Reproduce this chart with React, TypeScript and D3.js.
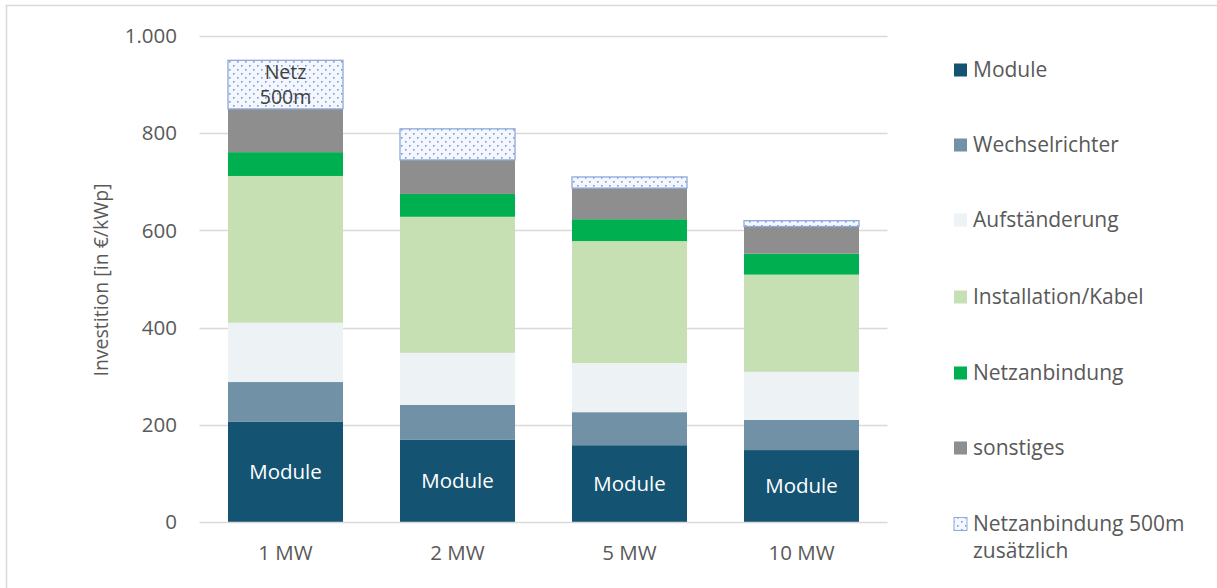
import React from "react";
import * as d3 from "d3";

const categories = ["1 MW", "2 MW", "5 MW", "10 MW"];
const seriesNames = [
  "Module",
  "Wechselrichter",
  "Aufständerung",
  "Installation/Kabel",
  "Netzanbindung",
  "sonstiges",
  "Netzanbindung 500m zusätzlich",
];
const module_ = [206, 169, 158, 148];
const wechselrichter = [82, 72, 68, 62];
const aufstaenderung = [122, 107, 101, 99];
const installation = [302, 280, 251, 200];
const netzanbindung = [49, 47, 45, 43];
const sonstiges = [89, 70, 64, 56];
const netz500m = [100, 64, 23, 12];
const yTicks = [0, 200, 400, 600, 800, 1000];
const yTickLabels = ["0", "200", "400", "600", "800", "1.000"];

const colors = ["#145372", "#7191a6", "#edf2f5", "#c6e0b4", "#00b050", "#8e8e8e", "url(#dots)"];
const seriesValues = [module_, wechselrichter, aufstaenderung, installation, netzanbindung, sonstiges, netz500m];

const FONT = "'Open Sans', 'Noto Sans', sans-serif";

export default function App() {
  const W = 1217, H = 588;
  const x0 = 199.5, x1 = 887.5, yTop = 36, yBot = 522;
  const x = d3
    .scaleBand<string>()
    .domain(categories)
    .range([x0, x1])
    .paddingInner(57 / 172)
    .paddingOuter(28.5 / 172);
  const y = d3.scaleLinear().domain([0, 1000]).range([yBot, yTop]);

  const table = categories.map((c, i) => {
    const row: any = { cat: c };
    seriesNames.forEach((s, k) => (row[s] = seriesValues[k][i]));
    return row;
  });
  const stacked = d3.stack<any>().keys(seriesNames)(table);

  const legendY = [70, 145, 220, 297, 373, 448, 524];

  return (
    <svg width={W} height={H} style={{ position: "absolute", left: 0, top: 0, background: "#fff" }} fontFamily={FONT}>
      <defs>
        <pattern id="dots" width="8" height="8" patternUnits="userSpaceOnUse">
          <rect width="8" height="8" fill="#f4f8fe" />
          <rect x="1" y="1" width="1.6" height="1.6" fill="#7b9ad8" />
          <rect x="5" y="5" width="1.6" height="1.6" fill="#7b9ad8" />
        </pattern>
      </defs>
      <rect x={6.5} y={5.5} width={1230} height={600} fill="none" stroke="#d9d9d9" strokeWidth={1.5} />
      {yTicks.map((t, i) => (
        <g key={t}>
          {t > 0 && <line x1={x0} x2={x1} y1={Math.round(y(t)) + 0.5} y2={Math.round(y(t)) + 0.5} stroke="#d9d9d9" strokeWidth={1.3} />}
          <text x={177} y={y(t)} dy="0.35em" textAnchor="end" fontSize={20.5} fill="#595959">
            {yTickLabels[i]}
          </text>
        </g>
      ))}
      {stacked.map((layer, k) => (
        <g key={layer.key}>
          {layer.map((d, i) => (
            <rect
              key={i}
              x={x(categories[i])}
              y={y(d[1])}
              width={x.bandwidth()}
              height={y(d[0]) - y(d[1])}
              fill={colors[k]}
              stroke={k === 6 ? "#8eaadb" : "none"}
              strokeWidth={k === 6 ? 1.3 : 0}
            />
          ))}
        </g>
      ))}
      <line x1={x0} x2={x1} y1={yBot + 0.5} y2={yBot + 0.5} stroke="#d9d9d9" strokeWidth={1.3} />
      {stacked[0].map((d, i) => (
        <text key={i} x={(x(categories[i]) as number) + x.bandwidth() / 2} y={(y(d[0]) + y(d[1])) / 2} dy="0.35em" textAnchor="middle" fontSize={20.5} fill="#ffffff">
          Module
        </text>
      ))}
      {(() => {
        const d = stacked[6][0];
        const cx = (x(categories[0]) as number) + x.bandwidth() / 2;
        const cy = (y(d[0]) + y(d[1])) / 2;
        return (
          <g>
            <text x={cx} y={cy - 12} dy="0.35em" textAnchor="middle" fontSize={19.5} fill="#404040">Netz</text>
            <text x={cx} y={cy + 13} dy="0.35em" textAnchor="middle" fontSize={19.5} fill="#404040">500m</text>
          </g>
        );
      })()}
      {categories.map((c) => (
        <text key={c} x={(x(c) as number) + x.bandwidth() / 2} y={553} dy="0.35em" textAnchor="middle" fontSize={20.5} fill="#595959">
          {c}
        </text>
      ))}
      <text transform={`translate(101,280) rotate(-90)`} textAnchor="middle" dy="0.35em" fontSize={19.5} fill="#595959">
        Investition [in €/kWp]
      </text>
      {seriesNames.map((s, k) => (
        <g key={s}>
          <rect x={954} y={legendY[k] - 6.5} width={13} height={13} fill={colors[k]} stroke={k === 6 ? "#8eaadb" : "none"} />
          {k < 6 ? (
            <text x={973} y={legendY[k]} dy="0.35em" fontSize={21} fill="#595959">{s}</text>
          ) : (
            <g>
              <text x={973} y={legendY[k]} dy="0.35em" fontSize={21} fill="#595959">Netzanbindung 500m</text>
              <text x={973} y={legendY[k] + 27} dy="0.35em" fontSize={21} fill="#595959">zusätzlich</text>
            </g>
          )}
        </g>
      ))}
    </svg>
  );
}
